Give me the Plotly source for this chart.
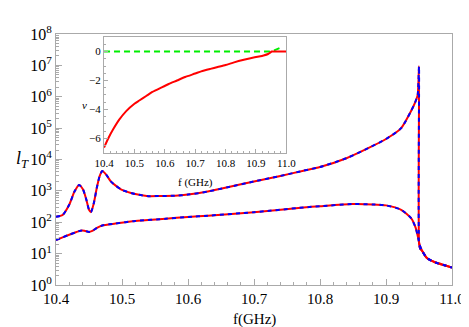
import numpy as np
import plotly.graph_objects as go

# main panel: transmission length l_T vs frequency (two branches)
f_upper = [10.400, 10.410, 10.420, 10.428, 10.435, 10.441, 10.446, 10.450, 10.453,
           10.457, 10.462, 10.466, 10.470, 10.476, 10.483, 10.490, 10.500, 10.520,
           10.540, 10.560, 10.580, 10.600, 10.630, 10.660, 10.700, 10.740, 10.775,
           10.800, 10.840, 10.873, 10.900, 10.923, 10.938, 10.944, 10.948, 10.950,
           10.9502, 10.952, 10.955, 10.962, 10.975, 10.990, 11.000]
lT_upper = [150, 170, 360, 950, 1550, 1100, 520, 250, 210,
            380, 1300, 2900, 4300, 3300, 2000, 1500, 1070, 790,
            680, 690, 700, 760, 950, 1300, 2000, 3000, 4400,
            5750, 11000, 23000, 45000, 100000, 350000, 650000, 1150000, 9300000,
            20, 14, 12, 7.2, 5.2, 4.2, 3.6]

f_lower = [10.400, 10.410, 10.420, 10.430, 10.437, 10.443, 10.450, 10.455, 10.462,
           10.470, 10.490, 10.520, 10.566, 10.600, 10.630, 10.700, 10.775, 10.800,
           10.849, 10.880, 10.900, 10.923, 10.938, 10.945, 10.949, 10.951, 10.955,
           10.962, 10.975, 10.990, 11.000]
lT_lower = [27, 33, 40, 48, 54, 54, 49, 53, 66,
            79, 91, 110, 129, 148, 162, 209, 295, 324,
            380, 370, 345, 250, 135, 66, 30, 19, 12,
            7.2, 5.2, 4.2, 3.6]

# inset: nu vs frequency
f_inset = [10.400, 10.415, 10.430, 10.450, 10.473, 10.500, 10.516, 10.540, 10.559,
           10.590, 10.613, 10.640, 10.667, 10.700, 10.720, 10.750, 10.774, 10.800,
           10.828, 10.860, 10.882, 10.910, 10.925, 10.940, 10.946, 10.952, 10.975, 11.000]
nu_red = [-6.62, -5.95, -5.37, -4.70, -4.11, -3.60, -3.38, -3.05, -2.79,
          -2.47, -2.24, -2.00, -1.76, -1.52, -1.37, -1.20, -1.07, -0.93,
          -0.75, -0.57, -0.46, -0.34, -0.27, -0.17, -0.09, 0.0, 0.0, 0.0]
f_green = [10.400, 10.500, 10.600, 10.700, 10.800, 10.900, 10.945, 10.960, 10.975, 10.989]
nu_green = [0, 0, 0, 0, 0, 0, 0.0, 0.08, 0.2, 0.33]

serif = "Liberation Serif"
fig = go.Figure()

for fx, ly in [(f_upper, lT_upper), (f_lower, lT_lower)]:
    fig.add_trace(go.Scatter(x=fx, y=ly, mode="lines",
                             line=dict(color="#ff0000", width=2, shape="spline", smoothing=0.6)))
    fig.add_trace(go.Scatter(x=fx, y=ly, mode="lines",
                             line=dict(color="#0000ff", width=2, dash="4px,4px",
                                       shape="spline", smoothing=0.6)))

fig.add_trace(go.Scatter(x=f_green, y=nu_green, mode="lines", xaxis="x2", yaxis="y2",
                         line=dict(color="#00ee00", width=2, dash="6px,4px")))
fig.add_trace(go.Scatter(x=f_inset, y=nu_red, mode="lines", xaxis="x2", yaxis="y2",
                         line=dict(color="#ff0000", width=2, shape="spline", smoothing=0.6)))

decades = list(range(0, 9))
minor_log = [m * 10 ** d for d in range(0, 8) for m in range(2, 10)]

frame = dict(showline=True, linecolor="#aaaaaa", linewidth=1, mirror=True,
             showgrid=False, zeroline=False, ticks="inside", tickcolor="#aaaaaa")
ticks_main = dict(size=16, family=serif, color="black")
ticks_x = dict(size=15, family=serif, color="black")
ticks_inset = dict(size=11, family=serif, color="black")
fvals = [10.4, 10.5, 10.6, 10.7, 10.8, 10.9, 11.0]
flabels = ["10.4", "10.5", "10.6", "10.7", "10.8", "10.9", "11.0"]

fig.update_layout(
    width=469, height=327,
    margin=dict(l=48, r=17, t=26, b=50),
    plot_bgcolor="white", paper_bgcolor="white",
    showlegend=False,
    font=dict(family=serif, color="black"),
    xaxis=dict(range=[10.4, 11.0], tickvals=fvals, ticktext=flabels,
               ticklen=6, tickfont=ticks_x, ticklabelstandoff=0,
               minor=dict(ticks="inside", ticklen=3, dtick=0.02, tickcolor="#aaaaaa"),
               **frame),
    yaxis=dict(type="log", range=[0, 8],
               tickvals=[10 ** d for d in decades],
               ticktext=["10<sup>%d</sup>" % d for d in decades],
               ticklen=6, tickfont=ticks_main,
               minor=dict(ticks="inside", ticklen=3, tickvals=minor_log, tickcolor="#aaaaaa"),
               **frame),
    xaxis2=dict(domain=[0.1213, 0.5817], anchor="y2", range=[10.4, 11.0],
                tickvals=fvals, ticktext=flabels,
                ticklen=4, tickfont=ticks_inset,
                minor=dict(ticks="inside", ticklen=2, dtick=0.02, tickcolor="#aaaaaa"),
                **frame),
    yaxis2=dict(domain=[0.526, 0.988], anchor="x2", range=[-7, 1],
                tickvals=[-6, -4, -2, 0], ticktext=["\u22126", "\u22124", "\u22122", "0"],
                ticklen=4, tickfont=ticks_inset,
                minor=dict(ticks="inside", ticklen=2, dtick=0.5, tickcolor="#aaaaaa"),
                **frame),
)

fig.add_annotation(text="<i>l<sub>T</sub></i>", xref="paper", yref="paper",
                   x=-0.105, y=0.5, showarrow=False, font=dict(size=18, family=serif))
fig.add_annotation(text="f(GHz)", xref="paper", yref="paper",
                   x=0.5, y=-0.138, yanchor="middle", showarrow=False,
                   font=dict(size=15, family=serif))
fig.add_annotation(text="f (GHz)", xref="paper", yref="paper",
                   x=0.3515, y=0.41, yanchor="middle", showarrow=False,
                   font=dict(size=11, family=serif))
fig.add_annotation(text="<i>\u03bd</i>", xref="paper", yref="paper",
                   x=0.06, y=0.75, showarrow=False, font=dict(size=11, family=serif))

fig.write_html("out.html")
